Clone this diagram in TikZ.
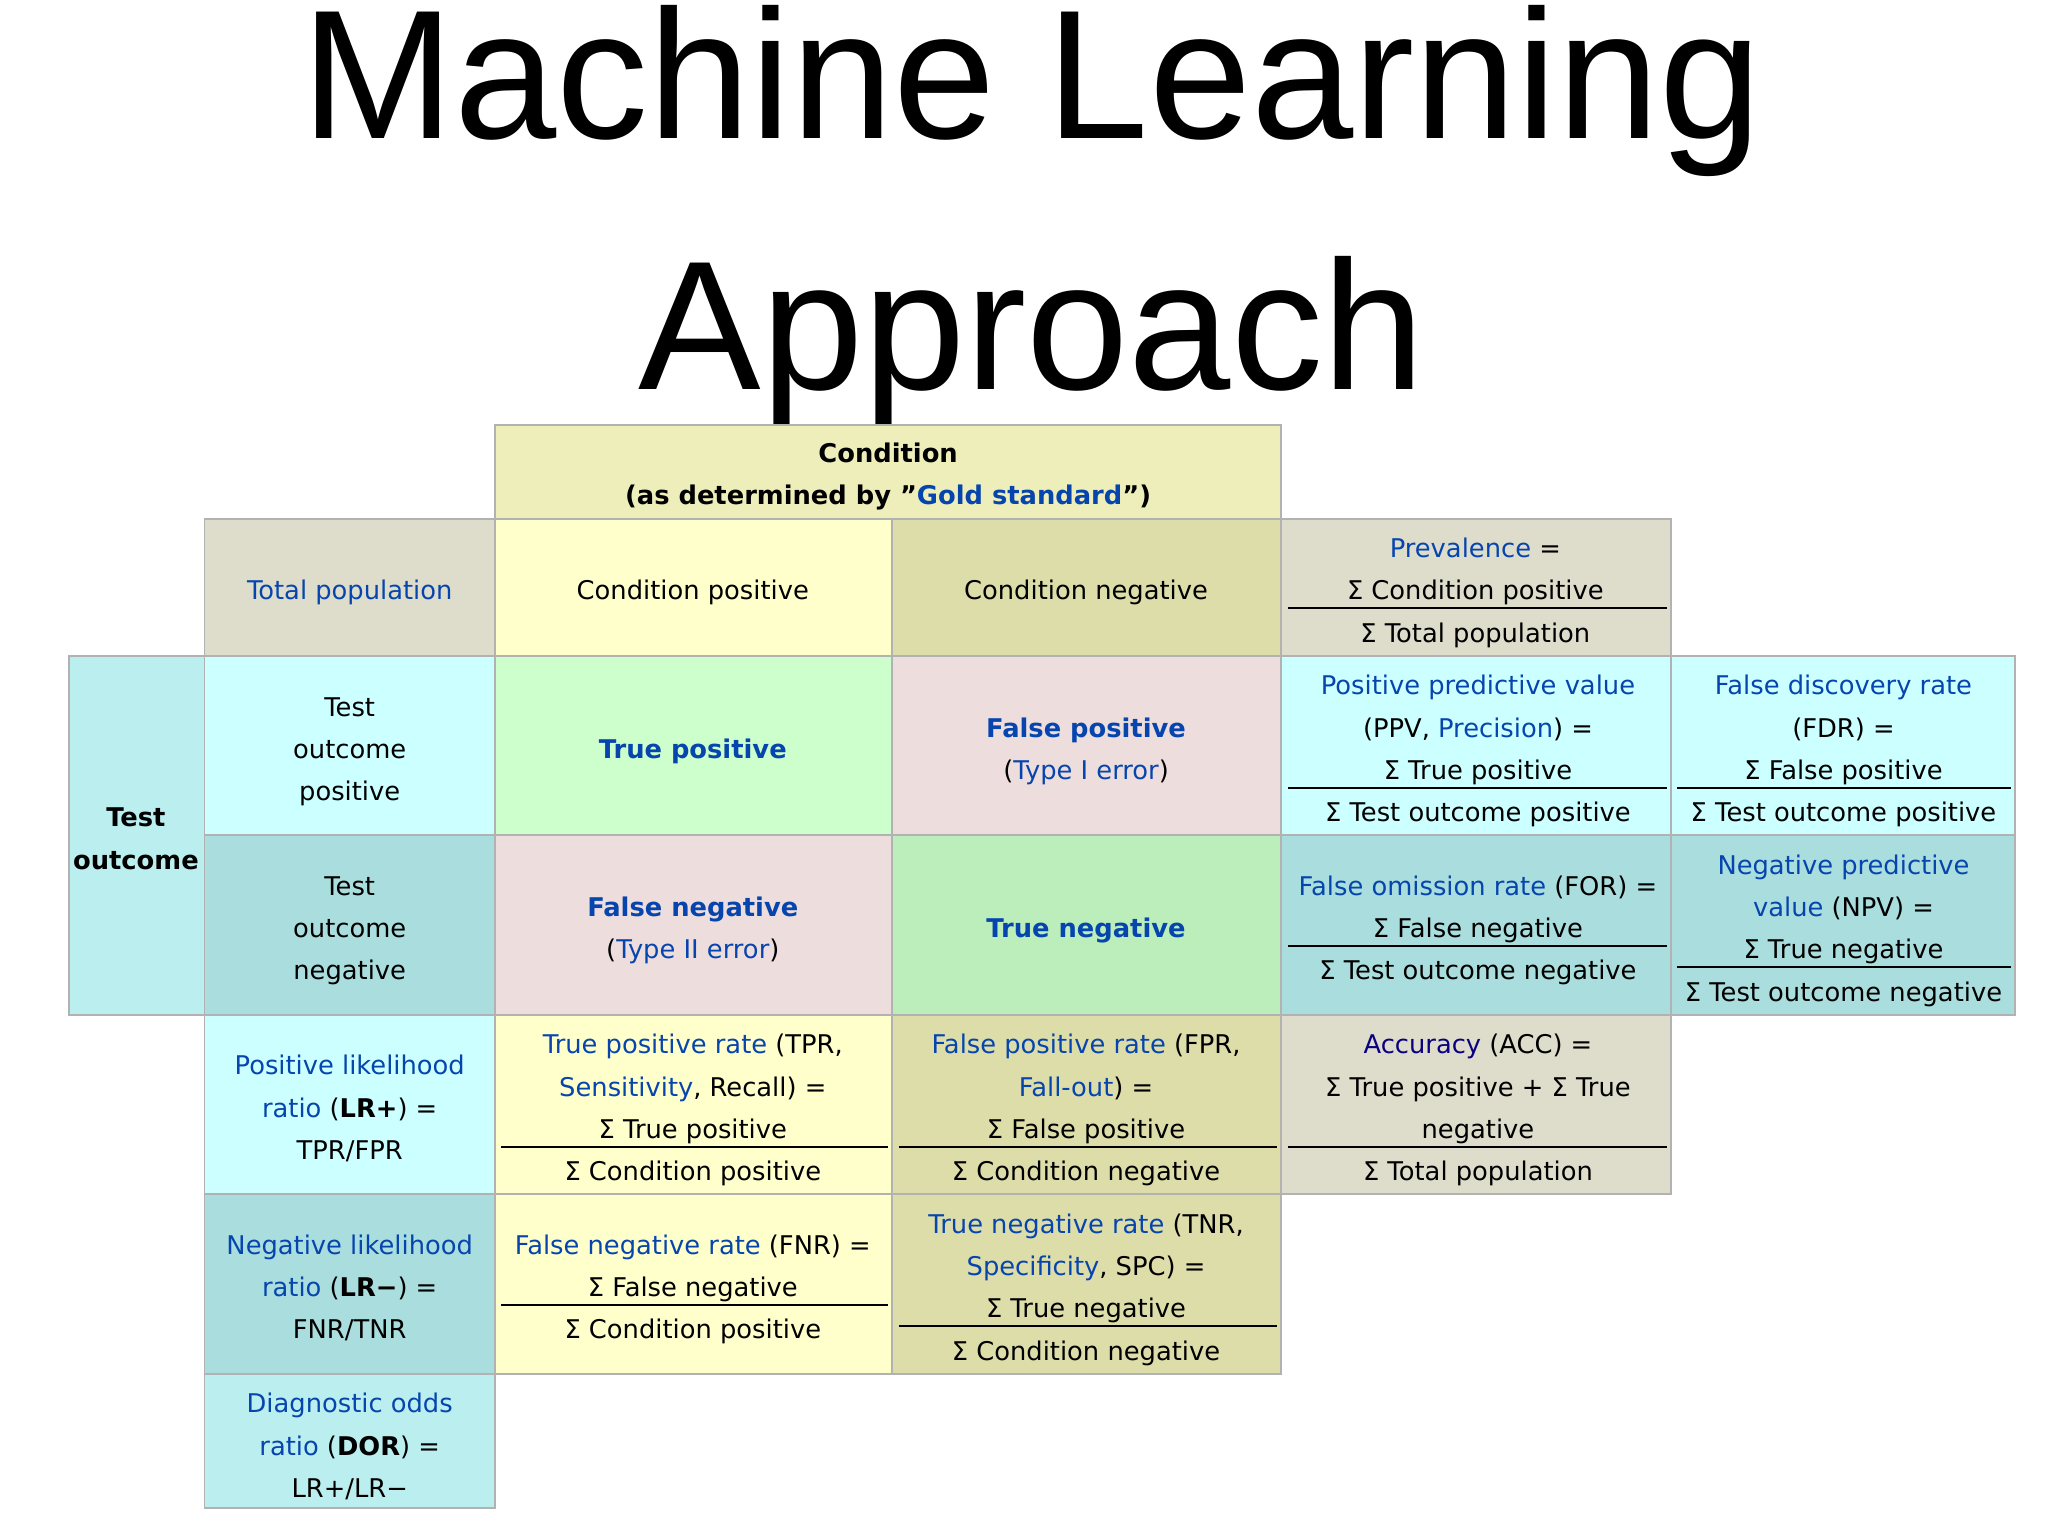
\documentclass[tikz,border=0pt]{standalone}
\usepackage{fontspec}
\setmainfont{DejaVu Sans}
\newfontfamily\titlefont{Liberation Sans}
\definecolor{lk}{HTML}{0645AD}
\definecolor{lkd}{HTML}{0B0080}
\definecolor{cHead}{HTML}{EEEEBB}
\definecolor{cGrey}{HTML}{DEDDCC}
\definecolor{cYel}{HTML}{FFFFCC}
\definecolor{cOl}{HTML}{DDDDAA}
\definecolor{cCy}{HTML}{CCFFFF}
\definecolor{cCy2}{HTML}{BBEEEE}
\definecolor{cCyD}{HTML}{AADDDD}
\definecolor{cGr}{HTML}{CCFFCC}
\definecolor{cGrD}{HTML}{BBEEBB}
\definecolor{cPk}{HTML}{EEDDDD}
\newcommand\bl[1]{\textcolor{lk}{#1}}
\newcommand\mytxt[3]{\node[tx] at (#1,#2) {#3};}
\newcommand\myrule[3]{\draw[frac] (#1,#3) -- (#2,#3);}
\newcommand\mycell[6]{\fill[#6] (#2,#3) rectangle (#4,#5); \draw[cellb] (#2,#3) rectangle (#4,#5); \coordinate (#1) at (#2,#3);}
\newcommand\sq{\symbol{34}}
\tikzset{
  tx/.style={anchor=mid,inner sep=0pt,font=\fontsize{5.55pt}{7pt}\selectfont},
  frac/.style={line width=0.5pt,black},
  cellb/.style={draw=black!30,line width=0.4pt},
  ttl/.style={anchor=base,inner sep=0pt,font=\titlefont\fontsize{39.6pt}{48pt}\selectfont}
}
\begin{document}
\begin{tikzpicture}[x=0.01cm,y=-0.01cm]
\useasboundingbox (0,0) rectangle (1552,1164);
\fill[white] (0,0) rectangle (1552,1164);
\node[ttl] (t1) at (782,105) {Machine Learning};
\node[ttl] (t2) at (782,295) {Approach};
% cells
\mycell{hd}{375}{322}{971}{393}{cHead}
\mycell{tp0}{155}{393}{375}{497}{cGrey}
\mycell{cp}{375}{393}{676}{497}{cYel}
\mycell{cn}{676}{393}{971}{497}{cOl}
\mycell{pv}{971}{393}{1266}{497}{cGrey}
\mycell{to}{52}{497}{155}{769}{cCy2}
\mycell{top}{155}{497}{375}{633}{cCy}
\mycell{tpc}{375}{497}{676}{633}{cGr}
\mycell{fpc}{676}{497}{971}{633}{cPk}
\mycell{ppv}{971}{497}{1266}{633}{cCy}
\mycell{fdr}{1266}{497}{1527}{633}{cCy}
\mycell{ton}{155}{633}{375}{769}{cCyD}
\mycell{fnc}{375}{633}{676}{769}{cPk}
\mycell{tnc}{676}{633}{971}{769}{cGrD}
\mycell{for}{971}{633}{1266}{769}{cCyD}
\mycell{npv}{1266}{633}{1527}{769}{cCyD}
\mycell{lrp}{155}{769}{375}{905}{cCy}
\mycell{tpr}{375}{769}{676}{905}{cYel}
\mycell{fpr}{676}{769}{971}{905}{cOl}
\mycell{acc}{971}{769}{1266}{905}{cGrey}
\mycell{lrn}{155}{905}{375}{1041}{cCyD}
\mycell{fnr}{375}{905}{676}{1041}{cYel}
\mycell{tnr}{676}{905}{971}{1041}{cOl}
\mycell{dor}{155}{1041}{375}{1143}{cCy2}
% header
\mytxt{673}{341}{\textbf{Condition}}
\mytxt{673}{373}{\textbf{(as determined by \sq\bl{Gold standard}\sq)}}
\mytxt{265}{445}{\bl{Total population}}
\mytxt{525}{445}{Condition positive}
\mytxt{823}{445}{Condition negative}
\mytxt{1118}{413}{\bl{Prevalence} =}
\mytxt{1118}{445}{Σ Condition positive}
\myrule{976}{1263}{461}
\mytxt{1118}{477}{Σ Total population}
% test outcome
\mytxt{103}{617}{\textbf{Test}}
\mytxt{103}{649}{\textbf{outcome}}
\mytxt{265}{533}{Test}
\mytxt{265}{565}{outcome}
\mytxt{265}{597}{positive}
\mytxt{525}{565}{\bl{\textbf{True positive}}}
\mytxt{823}{549}{\bl{\textbf{False positive}}}
\mytxt{823}{581}{(\bl{Type I error})}
\mytxt{1120}{517}{\bl{Positive predictive value}}
\mytxt{1120}{549}{(PPV, \bl{Precision}) =}
\mytxt{1120}{581}{Σ True positive}
\myrule{976}{1263}{597}
\mytxt{1120}{613}{Σ Test outcome positive}
\mytxt{1397}{517}{\bl{False discovery rate}}
\mytxt{1397}{549}{(FDR) =}
\mytxt{1397}{581}{Σ False positive}
\myrule{1271}{1524}{597}
\mytxt{1397}{613}{Σ Test outcome positive}
\mytxt{265}{669}{Test}
\mytxt{265}{701}{outcome}
\mytxt{265}{733}{negative}
\mytxt{525}{685}{\bl{\textbf{False negative}}}
\mytxt{525}{717}{(\bl{Type II error})}
\mytxt{823}{701}{\bl{\textbf{True negative}}}
\mytxt{1120}{669}{\bl{False omission rate} (FOR) =}
\mytxt{1120}{701}{Σ False negative}
\myrule{976}{1263}{717}
\mytxt{1120}{733}{Σ Test outcome negative}
\mytxt{1397}{653}{\bl{Negative predictive}}
\mytxt{1397}{685}{\bl{value} (NPV) =}
\mytxt{1397}{717}{Σ True negative}
\myrule{1271}{1524}{733}
\mytxt{1397}{749}{Σ Test outcome negative}
% rates
\mytxt{265}{805}{\bl{Positive likelihood}}
\mytxt{265}{837}{\bl{ratio} (\textbf{LR+}) =}
\mytxt{265}{869}{TPR/FPR}
\mytxt{525}{789}{\bl{True positive rate} (TPR,}
\mytxt{525}{821}{\bl{Sensitivity}, Recall) =}
\mytxt{525}{853}{Σ True positive}
\myrule{380}{673}{869}
\mytxt{525}{885}{Σ Condition positive}
\mytxt{823}{789}{\bl{False positive rate} (FPR,}
\mytxt{823}{821}{\bl{Fall-out}) =}
\mytxt{823}{853}{Σ False positive}
\myrule{681}{968}{869}
\mytxt{823}{885}{Σ Condition negative}
\mytxt{1120}{789}{\textcolor{lkd}{Accuracy} (ACC) =}
\mytxt{1120}{821}{Σ True positive + Σ True}
\mytxt{1120}{853}{negative}
\myrule{976}{1263}{869}
\mytxt{1120}{885}{Σ Total population}
\mytxt{265}{941}{\bl{Negative likelihood}}
\mytxt{265}{973}{\bl{ratio} (\textbf{LR−}) =}
\mytxt{265}{1005}{FNR/TNR}
\mytxt{525}{941}{\bl{False negative rate} (FNR) =}
\mytxt{525}{973}{Σ False negative}
\myrule{380}{673}{989}
\mytxt{525}{1005}{Σ Condition positive}
\mytxt{823}{925}{\bl{True negative rate} (TNR,}
\mytxt{823}{957}{\bl{Specificity}, SPC) =}
\mytxt{823}{989}{Σ True negative}
\myrule{681}{968}{1005}
\mytxt{823}{1021}{Σ Condition negative}
\mytxt{265}{1061}{\bl{Diagnostic odds}}
\mytxt{265}{1093}{\bl{ratio} (\textbf{DOR}) =}
\mytxt{265}{1125}{LR+/LR−}
\end{tikzpicture}
\end{document}
